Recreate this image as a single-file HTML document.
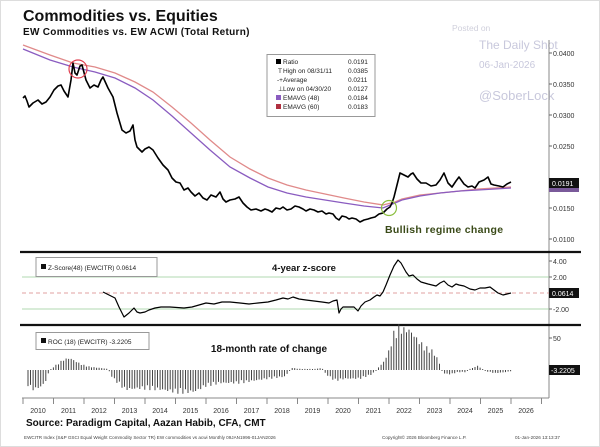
<!DOCTYPE html>
<html><head><meta charset="utf-8"><style>
html,body{margin:0;padding:0;background:#fff;}
svg{display:block;font-family:"Liberation Sans",sans-serif;}
</style></head><body>
<svg id="s" width="600" height="447" viewBox="0 0 600 447" xmlns="http://www.w3.org/2000/svg">
<rect x="0" y="0" width="600" height="447" fill="#fff"/>
<rect x="0.5" y="0.5" width="599" height="446" fill="none" stroke="#ddd"/>
<text x="23" y="21" font-size="16" font-weight="bold" fill="#111">Commodities vs. Equities</text>
<text x="23" y="35" font-size="10" font-weight="bold" fill="#111" letter-spacing="0.3">EW Commodities vs. EW ACWI (Total Return)</text>
<g fill="#c8c8dc" font-size="11">
<text x="452" y="31" font-size="8.5" fill="#d0d0dc">Posted on</text>
<text x="479" y="49" font-size="12">The Daily Shot</text>
<text x="479" y="68" font-size="10">06-Jan-2026</text>
<text x="479" y="100" font-size="13">@SoberLock</text>
</g>
<!-- right axis -->
<line x1="549" y1="40" x2="549" y2="398" stroke="#888" stroke-width="1"/>
<g font-size="7" fill="#333">
<text x="553" y="56">0.0400</text><text x="553" y="87">0.0350</text><text x="553" y="118">0.0300</text>
<text x="553" y="149">0.0250</text><text x="553" y="211">0.0150</text><text x="553" y="242">0.0100</text>
<text x="553" y="264">4.00</text><text x="553" y="280">2.00</text><text x="553" y="312">-2.00</text>
<text x="553" y="341">50</text>
</g>
<g stroke="#666"><line x1="549" y1="53" x2="552" y2="53"/><line x1="549" y1="84" x2="552" y2="84"/><line x1="549" y1="115" x2="552" y2="115"/><line x1="549" y1="146" x2="552" y2="146"/><line x1="549" y1="208" x2="552" y2="208"/><line x1="549" y1="239" x2="552" y2="239"/><line x1="549" y1="261" x2="552" y2="261"/><line x1="549" y1="277" x2="552" y2="277"/><line x1="549" y1="309" x2="552" y2="309"/><line x1="549" y1="338" x2="552" y2="338"/></g>
<!-- main panel lines -->
<polyline fill="none" stroke="#e08a8a" stroke-width="1.3" points="23,45 50,55 73,63 95,67 115,73 135,82 153,92 172,107 191,123 210,140 230,157 250,169 268,178 287,185 306,190 325,194 344,198 364,202 383,205 395,202 402,199 420,195 440,193 460,191 478,189 495,188 511,187"/>
<polyline fill="none" stroke="#8a5cc0" stroke-width="1.3" points="23,49 50,60 73,67 95,72 115,78 135,88 153,100 172,116 191,133 210,150 230,167 250,178 268,187 287,193 306,197 325,200 344,203 364,206 383,208 395,203 402,200 420,196 440,193 460,191 478,190 495,189 511,188"/>
<polyline fill="none" stroke="#000" stroke-width="1.6" stroke-linejoin="round" points="23,98 25,96 27,101 29,107 33,103 38,100 42,104 46,102 50,97 54,90 58,86 61,85 64,91 68,97 71,80 73,63 75,73 77,75 80,66 82,65 86,80 90,88 94,85 98,87 101,80 103,77 108,88 113,97 117,113 122,130 126,133 130,131 133,125 135,140 137,147 142,152 145,149 149,147 153,150 158,158 163,165 168,170 172,178 176,182 180,183 184,190 188,188 191,192 195,196 199,193 203,198 207,200 211,195 216,197 220,192 223,199 226,202 230,200 235,199 239,197 243,203 247,207 251,210 256,209 261,211 265,209 268,210 272,212 276,208 280,209 283,207 287,210 291,209 295,206 299,207 303,209 306,211 310,209 314,210 318,212 322,211 326,214 329,213 333,214 336,218 339,220 342,216 346,217 349,219 352,218 356,219 360,222 364,220 368,219 371,218 375,217 379,214 383,213 387,209 390,207 392,203 394,197 397,185 400,173 404,175 408,177 411,174 413,173 417,179 421,183 426,183 431,186 436,185 440,180 444,173 448,183 452,187 456,181 459,177 464,184 468,187 472,186 475,188 479,182 484,180 488,177 491,184 494,185 499,186 503,187 507,184 511,182"/>
<circle cx="78" cy="69" r="9" fill="none" stroke="#e04050" stroke-width="1.2"/>
<circle cx="389" cy="208" r="7.5" fill="none" stroke="#8cbf40" stroke-width="1.2"/>
<text x="385" y="233" font-size="10.5" font-weight="bold" fill="#3a4a18" letter-spacing="0.3">Bullish regime change</text>
<!-- legend -->
<rect x="267" y="54.5" width="108" height="62" fill="#fff" stroke="#999"/>
<g font-size="6.5" fill="#222">
<rect x="276" y="59" width="5" height="5" fill="#000"/><text x="283" y="64">Ratio</text><text x="348" y="64">0.0191</text>
<text x="278" y="73">T</text><text x="283" y="73">High on 08/31/11</text><text x="348" y="73">0.0385</text>
<text x="277" y="82">-+</text><text x="283" y="82">Average</text><text x="348" y="82">0.0211</text>
<text x="278" y="91">⊥</text><text x="283" y="91">Low on 04/30/20</text><text x="348" y="91">0.0127</text>
<rect x="276" y="95" width="5" height="5" fill="#8a5cc0"/><text x="283" y="100">EMAVG (48)</text><text x="348" y="100">0.0184</text>
<rect x="276" y="104" width="5" height="5" fill="#b03040"/><text x="283" y="109">EMAVG (60)</text><text x="348" y="109">0.0183</text>
</g>
<rect x="549" y="178" width="30" height="10" fill="#111"/><text x="552" y="186" font-size="7" fill="#fff">0.0191</text>
<rect x="549" y="188" width="30" height="4" fill="#7a5a9a"/>
<!-- separators -->
<line x1="20" y1="252" x2="581" y2="252" stroke="#111" stroke-width="2.2"/>
<line x1="20" y1="325" x2="581" y2="325" stroke="#111" stroke-width="2.2"/>
<!-- z panel -->
<line x1="22" y1="277" x2="549" y2="277" stroke="#9c9" stroke-width="0.8"/>
<line x1="22" y1="309" x2="549" y2="309" stroke="#9c9" stroke-width="0.8"/>
<line x1="22" y1="293" x2="549" y2="293" stroke="#e0a0a0" stroke-width="0.9" stroke-dasharray="4,3"/>
<rect x="36" y="257.5" width="121" height="19" fill="#fff" stroke="#999"/>
<rect x="41" y="264" width="5" height="5" fill="#111"/>
<text x="48" y="270" font-size="6.5" fill="#222">Z-Score(48) (EWCITR) 0.0614</text>
<text x="304" y="271" font-size="9.5" font-weight="bold" fill="#111" text-anchor="middle">4-year z-score</text>
<polyline fill="none" stroke="#000" stroke-width="1.2" stroke-linejoin="round" points="103,292 109,295 115,298 119,307 124,317 129,313 134,308 137,312 140,313 145,312 149,310 155,308 161,307 170,307 184,308 192,307 199,305 206,303 214,304 222,302 230,302 240,303 249,304 258,303 268,302 276,300 283,298 288,299 293,297 299,299 306,300 314,301 322,302 329,303 333,301 337,300 339,313 341,309 343,307 349,307 354,307 356,309 358,311 361,306 365,302 370,300 374,297 377,295 380,296 383,292 386,285 390,275 394,266 398,260 401,263 406,272 409,276 413,275 417,279 421,282 428,284 436,286 440,283 444,281 448,285 452,287 456,284 459,285 464,286 470,289 475,290 480,288 485,288 490,287 494,290 498,293 503,295 507,294 511,293"/>
<rect x="549" y="288" width="30" height="10" fill="#111"/><text x="552" y="296" font-size="7" fill="#fff">0.0614</text>
<!-- roc panel -->
<rect x="36" y="332.5" width="113" height="17" fill="#fff" stroke="#999"/>
<rect x="41" y="338" width="5" height="5" fill="#111"/>
<text x="48" y="344" font-size="6.5" fill="#222">ROC (18) (EWCITR) -3.2205</text>
<text x="269" y="352" font-size="10" font-weight="bold" fill="#111" text-anchor="middle">18-month rate of change</text>
<path id="roc" fill="none" stroke="#444" stroke-width="1" d=""/>
<rect x="549" y="365" width="31" height="10" fill="#111"/><text x="551" y="373" font-size="7" fill="#fff">-3.2205</text>
<!-- x axis -->
<line x1="22" y1="398" x2="549" y2="398" stroke="#888"/>
<g id="xt" stroke="#888"></g>
<g id="xl" font-size="7" fill="#333" text-anchor="middle"></g>
<text x="26" y="426" font-size="10" font-weight="bold" fill="#111">Source: Paradigm Capital, Aazan Habib, CFA, CMT</text>
<text x="24" y="439" font-size="4.6" fill="#444">EWCITR Index (S&amp;P GSCI Equal Weight Commodity Sector TR) EW commodities vs acwi Monthly 09JAN1996-01JAN2026</text>
<text x="382" y="439" font-size="4.6" fill="#444">Copyright© 2026 Bloomberg Finance L.P.</text>
<text x="515" y="439" font-size="4.6" fill="#444">01-Jan-2026 13:13:37</text>
</svg>
<script>
(function(){
var ns="http://www.w3.org/2000/svg";
var xt=document.getElementById("xt"),xl=document.getElementById("xl");
for(var i=0;i<=17;i++){var x=23+i*30.5;
var l=document.createElementNS(ns,"line");l.setAttribute("x1",x);l.setAttribute("x2",x);l.setAttribute("y1",398);l.setAttribute("y2",404);xt.appendChild(l);
if(i<17){var t=document.createElementNS(ns,"text");t.setAttribute("x",x+15);t.setAttribute("y",413);t.textContent=2010+i;xl.appendChild(t);}}
// envelope: [x, value px (positive=down)]
var env=[[28,14],[33,18],[40,16],[45,12],[48,4],[52,-2],[58,-6],[64,-10],[70,-11],[76,-8],[82,-5],[90,-3],[100,-2],[108,-1],[113,8],[125,18],[140,17],[160,18],[180,21],[195,20],[205,15],[220,12],[240,12],[260,9],[285,6],[292,-2],[300,-1],[315,-1],[322,-2],[326,4],[335,10],[345,8],[360,8],[372,4],[378,-2],[384,-8],[389,-18],[394,-35],[399,-40],[404,-38],[410,-37],[416,-30],[424,-22],[432,-18],[438,-10],[443,3],[450,4],[458,2],[465,2],[470,-1],[478,-4],[485,1],[495,3],[505,2],[511,1]];
function f(x){for(var k=0;k<env.length-1;k++){if(x>=env[k][0]&&x<=env[k+1][0]){var a=env[k],b=env[k+1];return a[1]+(b[1]-a[1])*(x-a[0])/(b[0]-a[0]);}}return 0;}
var d="";var n=0;
for(var x=28;x<=511;x+=2.54){n++;var v=f(x)*(0.85+0.3*Math.abs(Math.sin(n*1.7)));if(Math.abs(v)<1)v=v<0?-1:1;d+="M"+x.toFixed(1)+" 370V"+(370+v).toFixed(1);}
document.getElementById("roc").setAttribute("d",d);
})();
</script>
</body></html>
